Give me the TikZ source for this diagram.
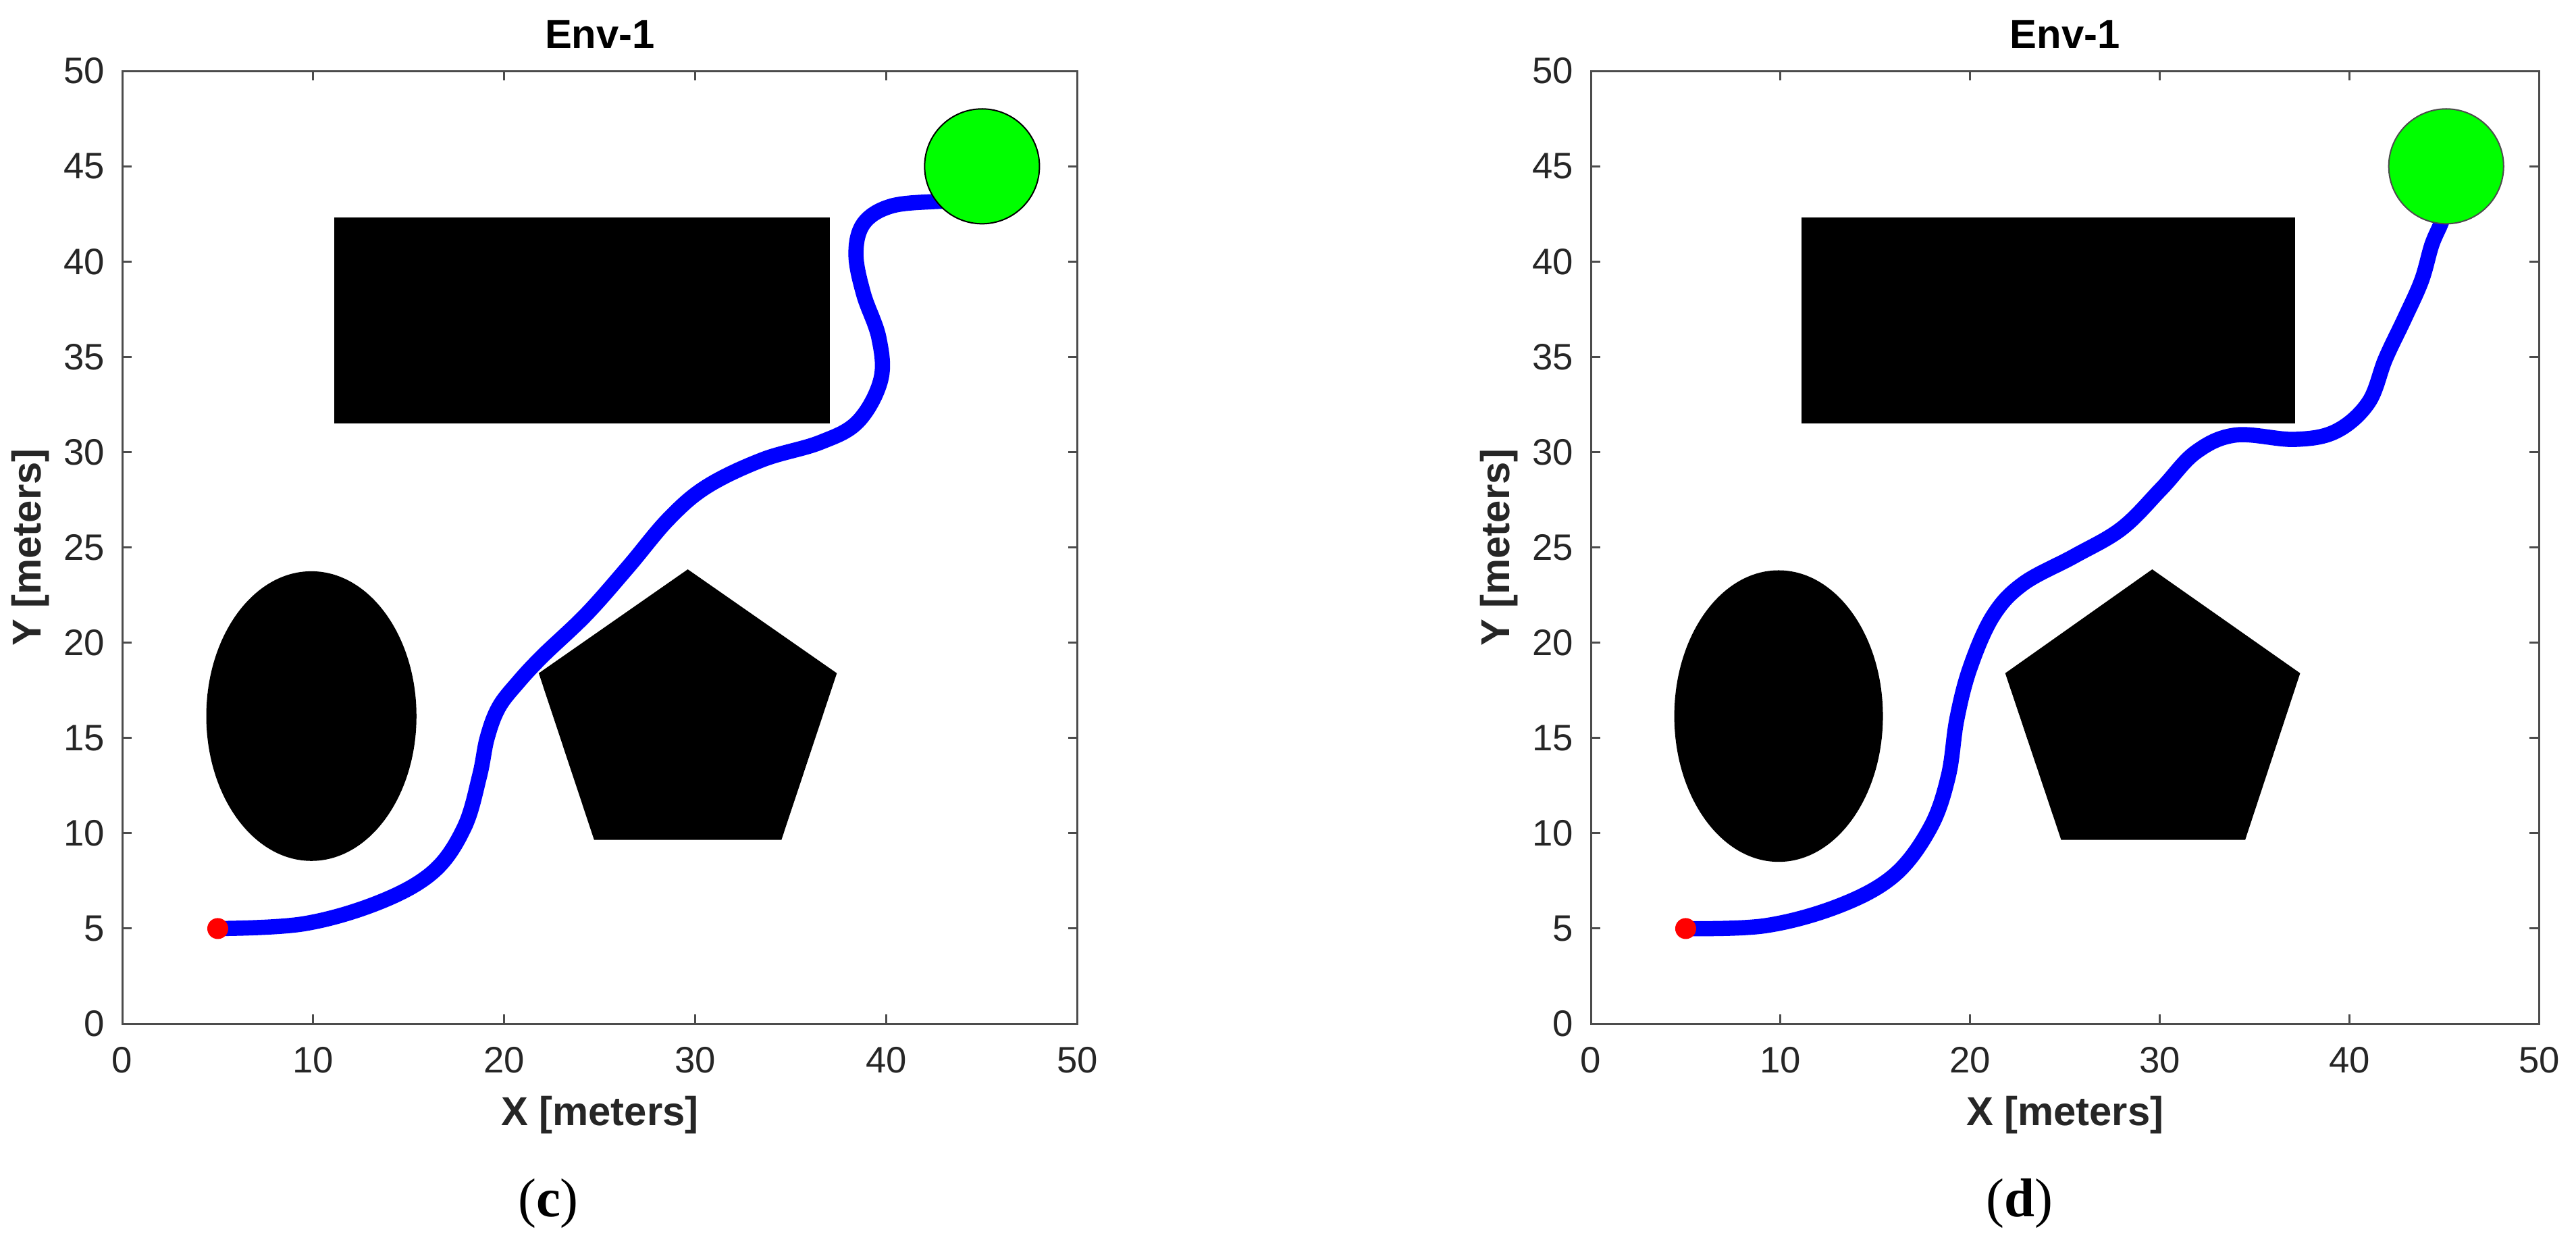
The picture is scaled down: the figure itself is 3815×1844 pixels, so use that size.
\documentclass[tikz,border=0pt]{standalone}
\usepackage{fontspec}
\setmainfont{Liberation Sans}
\newfontfamily\capfont{Liberation Serif}
\definecolor{axgray}{gray}{0.3}
\definecolor{txtgray}{gray}{0.15}
\definecolor{goalgreen}{rgb}{0,1,0}
\definecolor{pathblue}{rgb}{0,0,1}
\definecolor{startred}{rgb}{1,0,0}
\tikzset{
  axisline/.style={draw=axgray, line width=0.03cm},
  tickmark/.style={draw=axgray, line width=0.03cm},
  ticklbl/.style={font=\fontsize{15.5}{18}\selectfont, text=txtgray, inner sep=0pt},
  axlbl/.style={font=\fontsize{17}{20}\selectfont\bfseries, text=txtgray, inner sep=0pt},
  titlelbl/.style={font=\fontsize{17}{21}\selectfont\bfseries, text=black, inner sep=0pt},
  caplbl/.style={font=\capfont\fontsize{23}{26}\selectfont, text=black, inner sep=0pt},
  obstacle/.style={fill=black},
  trajectory/.style={draw=pathblue, line width=0.225cm, line cap=round, line join=round},
  startdot/.style={circle, fill=startred, inner sep=0pt, minimum size=0.31cm},
  goaldisc/.style={circle, fill=goalgreen, draw=black, line width=0.02cm, inner sep=0pt, minimum size=1.70cm},
}
\newcommand{\plotframe}[1]{%
  \draw[axisline] (0,0) rectangle (50,50);
  \foreach \v in {10,20,30,40} {
    \draw[tickmark] (\v,0) -- ++(0,0.14cm);
    \draw[tickmark] (\v,50) -- ++(0,-0.14cm);
  }
  \foreach \v in {5,10,...,45} {
    \draw[tickmark] (0,\v) -- ++(0.14cm,0);
    \draw[tickmark] (50,\v) -- ++(-0.14cm,0);
  }
  \foreach \v in {0,10,...,50}
    \node[ticklbl, anchor=north, yshift=-0.34cm] (#1x\v) at (\v,0) {\v};
  \foreach \v in {0,5,...,50}
    \node[ticklbl, anchor=east, xshift=-0.25cm] (#1y\v) at (0,\v) {\v};
  \node[axlbl, anchor=base, yshift=-1.50cm] (#1xlab) at (25,0) {X [meters]};
  \path (0,25) ++(-1.36cm,0) node[axlbl, rotate=90] (#1ylab) {Y [meters]};
  \node[titlelbl, anchor=base, yshift=0.34cm] (#1title) at (25,50) {Env-1};
}
\begin{document}
\begin{tikzpicture}[x=0.01cm, y=-0.01cm]
\useasboundingbox[fill=white] (0,0) rectangle (3815,1844);

% ---------- left plot (c)
\begin{scope}[shift={(181,1516)}, x=0.2828cm, y=0.282cm]
  \fill[obstacle] (11.1,31.5) rectangle (37.05,42.3);
  \fill[obstacle] (9.9,16.15) ellipse [x radius=5.5, y radius=7.6];
  \fill[obstacle] (29.6,23.85) -- (37.4,18.4) -- (34.5,9.65) -- (24.7,9.65) -- (21.8,18.4) -- cycle;
  \draw[trajectory] plot[smooth, tension=0.6] coordinates {
    (5,5) (9.5,5.25) (13.5,6.4) (16.3,8.0) (17.9,10.3) (18.7,13.0) (19.1,15.0)
    (19.7,16.6) (20.7,17.9) (22.0,19.3) (24.3,21.5) (26.5,24.0) (28.6,26.5) (30.6,28.2)
    (33.5,29.6) (36.5,30.5) (38.5,31.6) (39.7,33.8) (39.6,36.0) (38.8,38.3)
    (38.4,40.4) (38.8,42.0) (40.2,42.9) (42.5,43.15) (44.5,43.15)};
  \node[startdot] (startL) at (5,5) {};
  \node[goaldisc] (goalL) at (45,45) {};
  \plotframe{L}
\end{scope}

% ---------- right plot (d)
\begin{scope}[shift={(2356,1516)}, x=0.2807cm, y=0.282cm]
  \fill[obstacle] (11.1,31.5) rectangle (37.15,42.3);
  \fill[obstacle] (9.9,16.15) ellipse [x radius=5.5, y radius=7.65];
  \fill[obstacle] (29.6,23.85) -- (37.4,18.4) -- (34.5,9.65) -- (24.8,9.65) -- (21.85,18.4) -- cycle;
  \draw[trajectory] plot[smooth, tension=0.6] coordinates {
    (5,5) (9.2,5.15) (13.1,6.2) (16.0,7.8) (17.9,10.3) (18.85,13.0) (19.3,16.0)
    (20.0,18.7) (21.2,21.4) (22.8,23.1) (25.5,24.55) (28.0,26.0) (30.1,28.1)
    (31.9,30.0) (34.0,30.9) (37.1,30.67) (39.3,31.1) (41.0,32.6) (41.9,34.9)
    (42.9,37.0) (43.8,39.0) (44.35,40.9) (44.9,42.2) (45.2,43.5)};
  \node[startdot] (startR) at (5,5) {};
  \node[goaldisc, draw=black!70] (goalR) at (45.1,45) {};
  \plotframe{R}
\end{scope}

\node[caplbl, anchor=base] (capc) at (812,1801) {(\textbf{c})};
\node[caplbl, anchor=base] (capd) at (2991,1801) {(\textbf{d})};
\end{tikzpicture}
\end{document}
